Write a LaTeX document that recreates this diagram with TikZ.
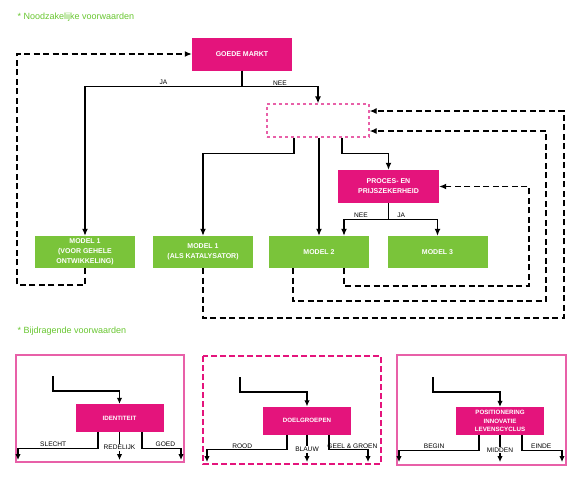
\documentclass[tikz,border=0pt]{standalone}
\usepackage{fontspec}
\setmainfont{Liberation Sans}
\usetikzlibrary{arrows.meta}
\definecolor{roze}{RGB}{228,20,124}
\definecolor{lichtroze}{RGB}{232,96,168}
\definecolor{groen}{RGB}{122,196,58}
\definecolor{titelgroen}{RGB}{104,198,48}
\begin{document}
\begin{tikzpicture}[x=1pt, y=-1pt,
    blok/.style={fill=roze, text=white, font=\fontsize{7}{10}\selectfont\bfseries, align=center,
      inner sep=0pt, minimum width=100pt, minimum height=33pt},
    model/.style={blok, fill=groen, minimum height=32pt},
    klein/.style={blok, font=\fontsize{6.2}{8.7}\selectfont\bfseries, minimum width=88pt, minimum height=28pt},
    pijl/.style={-{Latex[length=7pt,width=6pt]}, line width=1.3pt},
    pijlklein/.style={-{Latex[length=6pt,width=5.5pt]}, line width=1.1pt},
    terug/.style={pijl, dash pattern=on 6pt off 3.5pt},
    lbl/.style={font=\fontsize{6.6}{7}\selectfont, inner sep=1pt},
    titel/.style={font=\fontsize{9}{10}\selectfont, text=titelgroen, anchor=west}]
  \useasboundingbox (0,0) rectangle (580,483);
  % noodzakelijke voorwaarden
  \node[titel] (kop1) at (14,17) {* Noodzakelijke voorwaarden};
  \node[blok] (markt) at (242,54) {GOEDE MARKT};
  \node[draw=lichtroze, dashed, line width=1.3pt, minimum width=102pt, minimum height=33pt, inner sep=0pt] (leeg) at (318,120.5) {};
  \node[blok, minimum width=101pt] (proces) at (388.5,186.5) {PROCES- EN\\PRIJSZEKERHEID};
  \node[model] (m1a) at (85,252) {MODEL 1\\(VOOR GEHELE\\ONTWIKKELING)};
  \node[model] (m1b) at (203,252) {MODEL 1\\(ALS KATALYSATOR)};
  \node[model] (m2) at (319,252) {MODEL 2};
  \node[model] (m3) at (437.5,252) {MODEL 3};
  \draw[pijl] (markt.south) -- ++(0,16) -| node[lbl, above, pos=.25]{JA} (m1a.north);
  \draw[pijl] (markt.south) -- ++(0,16) -| node[lbl, above, pos=.25]{NEE} (leeg.north);
  \draw[pijl] ([xshift=-24pt]leeg.south) -- ++(0,16) -| (m1b.north);
  \draw[pijl] ([xshift=1pt]leeg.south) -- (m2.north);
  \draw[pijl] ([xshift=24pt]leeg.south) -- ++(0,16) -| (proces.north);
  \draw[pijl] (proces.south) -- ++(0,16) -| node[lbl, above, pos=.31]{NEE} ([xshift=25pt]m2.north);
  \draw[pijl] (proces.south) -- ++(0,16) -| node[lbl, above, pos=.13]{JA} (m3.north);
  % terugkoppeling
  \coordinate (hoek1) at (17,285);
  \coordinate (hoek2) at (564,318);
  \coordinate (hoek3) at (546,301);
  \coordinate (hoek4) at (529,286);
  \draw[terug] (m1a.south) |- (hoek1) |- (markt.west);
  \draw[terug] (m1b.south) |- (hoek2) |- ([yshift=9.5pt]leeg.east);
  \draw[terug] ([xshift=-26pt]m2.south) |- (hoek3) |- ([yshift=-10.5pt]leeg.east);
  \draw[terug] ([xshift=25pt]m2.south) |- (hoek4) |- (proces.east);
  % bijdragende voorwaarden
  \node[titel] (kop2) at (14,331) {* Bijdragende voorwaarden};
  \draw[lichtroze, line width=1.3pt] (16,355) rectangle (184,462);
  \draw[roze, line width=1.8pt, dash pattern=on 6pt off 3pt] (203,356) rectangle (381,464);
  \draw[lichtroze, line width=1.3pt] (397,355) rectangle (566,465);
  % identiteit
  \node[klein] (ident) at (119.5,418) {IDENTITEIT};
  \coordinate (in1) at (53,376);
  \coordinate (uit1a) at (18,460);
  \coordinate (uit1c) at (181,460);
  \draw[pijlklein] (in1) -- ++(0,15) -| (ident.north);
  \draw[pijlklein] ([xshift=-21.5pt]ident.south) -- ++(0,16) -| node[lbl, above, pos=.28]{SLECHT} (uit1a);
  \draw[pijlklein] (ident.south) -- node[lbl, fill=white, pos=.55]{REDELIJK} (ident.south |- uit1a);
  \draw[pijlklein] ([xshift=22.5pt]ident.south) -- ++(0,16) -| node[lbl, above, pos=.3]{GOED} (uit1c);
  % doelgroepen
  \node[klein] (doel) at (307,420.5) {DOELGROEPEN};
  \coordinate (in2) at (240,377);
  \coordinate (uit2a) at (207,462);
  \coordinate (uit2c) at (368,462);
  \draw[pijlklein] (in2) -- ++(0,15) -| (doel.north);
  \draw[pijlklein] ([xshift=-20pt]doel.south) -- ++(0,15) -| node[lbl, above, pos=.28]{ROOD} (uit2a);
  \draw[pijlklein] (doel.south) -- node[lbl, fill=white, pos=.55]{BLAUW} (doel.south |- uit2a);
  \draw[pijlklein] ([xshift=22pt]doel.south) -- ++(0,15) -| node[lbl, above, pos=.3]{GEEL \& GROEN} (uit2c);
  % positionering
  \node[klein] (posit) at (500,421) {POSITIONERING\\INNOVATIE\\LEVENSCYCLUS};
  \coordinate (in3) at (433,377);
  \coordinate (uit3a) at (399,462);
  \coordinate (uit3c) at (562,462);
  \draw[pijlklein] (in3) -- ++(0,15) -| (posit.north);
  \draw[pijlklein] ([xshift=-21pt]posit.south) -- ++(0,15) -| node[lbl, above, pos=.28]{BEGIN} (uit3a);
  \draw[pijlklein] (posit.south) -- node[lbl, fill=white, pos=.55]{MIDDEN} (posit.south |- uit3a);
  \draw[pijlklein] ([xshift=22pt]posit.south) -- ++(0,15) -| node[lbl, above, pos=.24]{EINDE} (uit3c);
\end{tikzpicture}
\end{document}
